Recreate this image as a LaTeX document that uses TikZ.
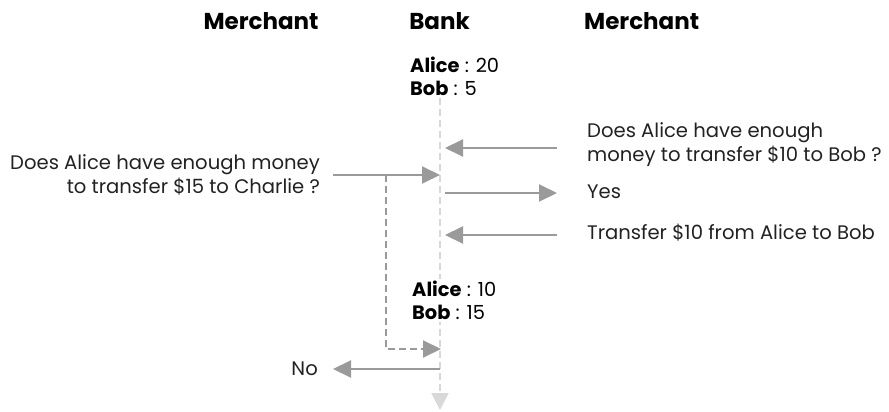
\documentclass[tikz,border=0pt]{standalone}
\usepackage{fontspec}
\setmainfont{Poppins}
\usetikzlibrary{arrows.meta}
\definecolor{arrowgray}{HTML}{9A9A9A}
\definecolor{lifegray}{HTML}{D8D8D8}
\definecolor{ink}{HTML}{222222}
\begin{document}
\begin{tikzpicture}[x=1pt,y=-1pt,
  lbl/.style={font=\fontsize{19.6}{24}\selectfont, inner sep=0pt, text=ink},
  head/.style={font=\fontsize{23}{26}\selectfont\bfseries, inner sep=0pt, text=black},
  state/.style={font=\fontsize{19.4}{23}\selectfont, inner sep=2pt, fill=white, align=left, text=black},
  msg/.style={draw=arrowgray, line width=2pt, -{Triangle[length=18pt,width=17pt,fill=arrowgray]}},
  dmsg/.style={msg, dashed, dash pattern=on 7pt off 4pt},
  lifeline/.style={draw=lifegray, line width=2pt, dash pattern=on 7pt off 4pt,
    -{Triangle[length=17pt,width=17pt,fill=lifegray]}}
]
\useasboundingbox (0,0) rectangle (889,412);

% column headings
\node[head] (hleft)  at (261,21) {Merchant};
\node[head] (hbank)  at (439.5,21) {Bank};
\node[head, anchor=west] (hright) at (584,21) {Merchant};

% bank lifeline
\coordinate (ltop) at (440,98);
\coordinate (lbot) at (440,410);
\draw[lifeline] (ltop) -- (lbot);

% balances
\node[state, anchor=north west] (s1) at (408,55) {\textbf{Alice} : 20\\\textbf{Bob} : 5};
\node[state, anchor=north west] (s2) at (410,279) {\textbf{Alice} : 10\\\textbf{Bob} : 15};

% lifeline anchor points
\coordinate (b1) at (445,148);
\coordinate (b2) at (440,175);
\coordinate (b3) at (445,193);
\coordinate (b4) at (445,235);
\coordinate (b5) at (441,349);
\coordinate (b6) at (440,369);

% right merchant
\node[lbl, anchor=west, align=left] (q1) at (587,145) {Does Alice have enough\\money to transfer \$10 to Bob ?};
\node[lbl, anchor=west] (yes) at (587,192) {Yes};
\node[lbl, anchor=west] (tr) at (587,233) {Transfer \$10 from Alice to Bob};
\coordinate (r1) at (557,148);
\coordinate (r3) at (557,193);
\coordinate (r4) at (557,235);
\draw[msg] (r1) -- (b1);
\draw[msg] (b3) -- (r3);
\draw[msg] (r4) -- (b4);

% left merchant
\node[lbl, anchor=east, align=right] (q2) at (320,175) {Does Alice have enough money\\to transfer \$15 to Charlie ?};
\node[lbl, anchor=east] (no) at (318,369) {No};
\coordinate (l2) at (333,175);
\coordinate (d1) at (386,175);
\coordinate (d2) at (386,349);
\coordinate (l6) at (333,369);
\draw[msg] (l2) -- (b2);
\draw[dmsg] (d1) -- (d2) -- (b5);
\draw[msg] (b6) -- (l6);
\end{tikzpicture}
\end{document}
